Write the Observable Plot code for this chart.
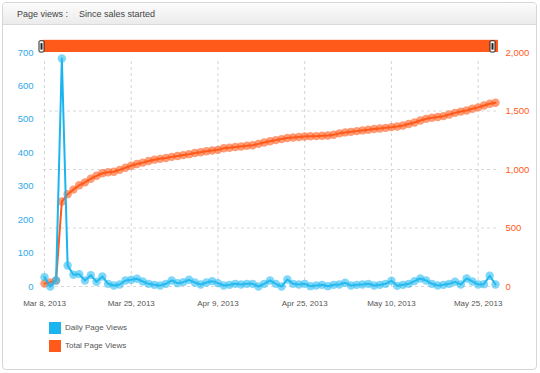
<!DOCTYPE html>
<html>
<head>
<meta charset="utf-8">
<script src="https://cdn.jsdelivr.net/npm/d3@7"></script>
<script src="https://cdn.jsdelivr.net/npm/@observablehq/plot@0.6"></script>
<style>
  html, body { margin: 0; padding: 0; background: #fff; }
  body { width: 540px; height: 373px; position: relative; overflow: hidden; font-family: "Liberation Sans", Arial, Helvetica, sans-serif; }
  #panel { position: absolute; left: 2px; top: 2px; width: 535px; height: 368px; box-sizing: border-box; border: 1px solid #d6d6d6; border-radius: 4px; background: #fff; overflow: hidden; }
  #header { height: 21px; background: linear-gradient(#fcfcfc, #ebebeb); border-bottom: 1px solid #d9d9d9; font-size: 9px; color: #444; line-height: 22px; position: relative; }
  #header span { position: absolute; top: 0; }
  #chart { position: absolute; left: 0; top: 26px; }
  .legend { position: absolute; left: 49px; font-size: 8px; color: #555; }
  .legend i { display: inline-block; width: 12px; height: 12px; vertical-align: middle; margin-right: 4px; }
</style>
</head>
<body>
<div id="panel">
  <div id="header"><span style="left:14px">Page views :</span><span style="left:76px">Since sales started</span></div>
</div>
<div id="chart"></div>
<div class="legend" style="top:322px"><i style="background:#1cb4ee"></i>Daily Page Views</div>
<div class="legend" style="top:340px"><i style="background:#ff5a1a"></i>Total Page Views</div>
<script>
// point index along the x axis (one point per reporting day)
const dailyViews = [28, 0, 18, 682, 63, 35, 37, 18, 34, 14, 30, 8, 3, 6, 18,
  20, 23, 15, 8, 5, 3, 8, 18, 10, 13, 20, 12, 6, 12, 16,
  10, 3, 5, 8, 6, 8, 8, 0, 8, 18, 8, 0, 21, 8, 6,
  8, 1, 3, 5, 1, 5, 6, 11, 3, 5, 6, 8, 3, 5, 8,
  17, 2, 5, 8, 16, 24, 18, 8, 3, 5, 8, 14, 6, 24, 15,
  6, 7, 32, 6];
const totalViews = [26, 34, 51, 726, 789, 828, 865, 890, 921, 946, 968, 976, 981, 997, 1015,
  1032, 1047, 1059, 1073, 1084, 1091, 1098, 1108, 1116, 1123, 1131, 1141, 1148, 1156, 1162,
  1168, 1181, 1186, 1192, 1197, 1203, 1207, 1219, 1231, 1242, 1251, 1260, 1269, 1273, 1278,
  1282, 1284, 1285, 1288, 1291, 1297, 1309, 1317, 1322, 1328, 1334, 1340, 1346, 1351, 1356,
  1362, 1368, 1376, 1389, 1402, 1419, 1433, 1442, 1449, 1456, 1470, 1484, 1495, 1504, 1519,
  1531, 1547, 1562, 1570];
const tickIndex = [0, 15, 30, 45, 60, 75];
const tickLabels = ["Mar 8, 2013", "Mar 25, 2013", "Apr 9, 2013", "Apr 25, 2013", "May 10, 2013", "May 25, 2013"];
const leftTicks = [0, 100, 200, 300, 400, 500, 600, 700];
const rightTicks = [0, 500, 1000, 1500, 2000];

const BLUE = "#1cb4ee", ORANGE = "#ff5a1a";
const leftMax = 700, rightMax = 2000, k = leftMax / rightMax;

const rows = dailyViews.map((v, i) => ({i, daily: v, total: totalViews[i] * k}));
const first = rows[0].i, last = rows[rows.length - 1].i;
const bar = [{x1: first, x2: last, y1: leftMax, y2: leftMax * 1.052}];
const handles = [first, last];

const plot = Plot.plot({
  width: 540,
  height: 290,
  marginTop: 26,
  marginBottom: 30,
  marginLeft: 44,
  marginRight: 45,
  style: {fontFamily: "'Liberation Sans', Arial, Helvetica, sans-serif", fontSize: "9.5px", background: "transparent"},
  x: {type: "linear", domain: [first, last]},
  y: {domain: [0, leftMax]},
  marks: [
    Plot.ruleX(tickIndex, {y1: 0, y2: leftMax, insetBottom: -6, stroke: "#d4d4d4", strokeDasharray: "3,3"}),
    Plot.ruleY(rightTicks.slice(0, -1).map(v => v * k), {x1: first, x2: last, insetLeft: -1, insetRight: -2, stroke: "#d8d8d8", strokeDasharray: "3,3"}),
    Plot.rect(bar, {x1: "x1", x2: "x2", y1: "y1", y2: "y2", fill: ORANGE, insetLeft: -1, insetRight: -3}),
    Plot.rect(handles, {x1: d => d, x2: d => d, y1: leftMax, y2: leftMax * 1.048, insetLeft: -4, insetRight: -1, fill: "#fff", stroke: "#222", strokeWidth: 1, rx: 1, dx: -1}),
    Plot.rect(handles, {x1: d => d, x2: d => d, y1: leftMax * 1.01, y2: leftMax * 1.038, insetLeft: -2, insetRight: 0, fill: "#222", dx: -1.5}),
    Plot.line(rows, {x: "i", y: "total", stroke: ORANGE, strokeWidth: 2}),
    Plot.dot(rows, {x: "i", y: "total", r: 4.2, fill: ORANGE, fillOpacity: 0.6, stroke: "none"}),
    Plot.line(rows, {x: "i", y: "daily", stroke: BLUE, strokeWidth: 2}),
    Plot.dot(rows, {x: "i", y: "daily", r: 4.2, fill: "#2bbcf2", fillOpacity: 0.6, stroke: "none"}),
    Plot.axisY(leftTicks, {anchor: "left", tickSize: 0, tickPadding: 11, color: "#2fa9e8", fill: "#2fa9e8"}),
    Plot.axisY(rightTicks.map(v => v * k), {anchor: "right", tickSize: 0, tickPadding: 10, color: "#ff5a1a", fill: "#ff5a1a", tickFormat: v => d3.format(",")(Math.round(v / k))}),
    Plot.axisX(tickIndex, {anchor: "bottom", tickSize: 0, tickPadding: 14, fontSize: 8, color: "#555", fill: "#555", tickFormat: d => tickLabels[tickIndex.indexOf(d)]})
  ]
});
document.getElementById("chart").appendChild(plot);
</script>
</body>
</html>
